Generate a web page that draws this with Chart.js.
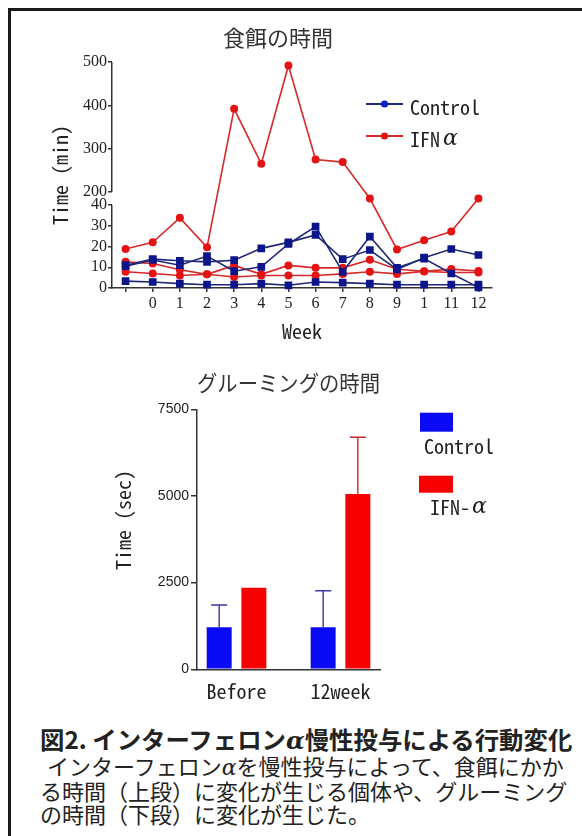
<!DOCTYPE html>
<html>
<head>
<meta charset="utf-8">
<script src="https://cdn.jsdelivr.net/npm/chart.js@4.4.1/dist/chart.umd.min.js"></script>
<style>
  html, body { margin: 0; padding: 0; background: #fff; width: 582px; height: 836px; overflow: hidden; }
  #frame { position: absolute; left: 8px; top: 8px; width: 700px; height: 900px; border-left: 3px solid #1a1a1a; border-top: 3px solid #1a1a1a; }
  canvas { position: absolute; left: 0; }
  #c1 { top: 0; }
  #c2 { top: 350px; }
  #caption { position: absolute; left: 40px; top: 727px; font-family: 'Noto Sans CJK JP', sans-serif; font-size: 22px; line-height: 23.3px; color: #222; white-space: nowrap; }
  #caption .h { font-weight: bold; font-size: 24.4px; line-height: 24.5px; }
  #caption .ind { padding-left: 7px; }
  .al { font-family: 'DejaVu Serif', serif; font-style: italic; }
</style>
</head>
<body>
<div id="frame"></div>
<canvas id="c1" width="582" height="350"></canvas>
<canvas id="c2" width="582" height="370"></canvas>
<div id="caption">
  <div class="h">図2. インターフェロン<span class="al">α</span>慢性投与による行動変化</div>
  <div class="ind">インターフェロン<span class="al">α</span>を慢性投与によって、食餌にかか</div>
  <div>る時間（上段）に変化が生じる個体や、グルーミング</div>
  <div>の時間（下段）に変化が生じた。</div>
</div>
<script>
// ---------------- DATA ----------------
const WEEK_LABELS = ['', '0', '1', '2', '3', '4', '5', '6', '7', '8', '9', '1', '11', '12'];
const CONTROL_A = [11.0, 13.9, 13.1, 12.6, 13.4, 19.1, 22.0, 25.6, 13.9, 18.3, 9.0, 14.6, 18.8, 15.9];
const CONTROL_B = [10.5, 13.5, 11.0, 15.4, 8.1, 10.2, 21.2, 29.6, 7.8, 24.8, 9.7, 14.2, 7.0, 0.3];
const CONTROL_C = [3.3, 2.9, 2.1, 1.6, 1.6, 2.1, 1.3, 2.9, 2.6, 2.1, 1.6, 1.6, 1.6, 1.6];
const IFN_A = [18.8, 22.0, 33.8, 19.6, 392, 265, 492, 275, 269, 185, 18.6, 23.0, 27.2, 185];
const IFN_B = [12.6, 11.8, 8.8, 6.6, 10.9, 6.6, 10.9, 9.7, 9.7, 13.6, 9.0, 8.1, 9.1, 8.2];
const IFN_C = [7.8, 7.0, 6.0, 6.6, 5.3, 6.0, 6.0, 6.0, 6.8, 7.8, 6.8, 8.0, 7.5, 7.5];
const TOP_Y_TICKS = [0, 10, 20, 30, 40, 200, 300, 400, 500];

const GROUP_LABELS = ['Before', '12week'];
const GROOM_CONTROL_MEAN = [1210, 1210];
const GROOM_CONTROL_SD = [645, 1055];
const GROOM_IFN_MEAN = [2355, 5055];
const GROOM_IFN_SD = [0, 1640];
const BOTTOM_Y_TICKS = [0, 2500, 5000, 7500];

// ---------------- STYLE ----------------
const NAVY_LINE = '#1f2777';
const NAVY_PT = '#0c168a';
const RED_LINE = '#d62a2a';
const RED_PT = '#e41414';
const BAR_BLUE = '#0a0af5';
const BAR_RED = '#f80000';
const AXIS = '#333333';
const MONO = "'Noto Sans Mono CJK JP', 'DejaVu Sans Mono', monospace";
const JP = "'Noto Sans CJK JP', sans-serif";

// broken axis geometry (fractions of axis height)
const LOW_MAX = 40, HIGH_MIN = 200, HIGH_MAX = 500;
const LOW_FRAC = 83 / 226, BREAK_FRAC = 96 / 226;

class BrokenScale extends Chart.LinearScale {
  determineDataLimits() { this.min = 0; this.max = HIGH_MAX; }
  buildTicks() { return TOP_Y_TICKS.map(v => ({ value: v })); }
  getPixelForValue(v) {
    const h = this.bottom - this.top;
    if (v <= LOW_MAX) return this.bottom - (v / LOW_MAX) * h * LOW_FRAC;
    return this.bottom - h * BREAK_FRAC - (v - HIGH_MIN) / (HIGH_MAX - HIGH_MIN) * h * (1 - BREAK_FRAC);
  }
  getValueForPixel(p) {
    const h = this.bottom - this.top;
    const d = this.bottom - p;
    if (d <= h * LOW_FRAC) return d / (h * LOW_FRAC) * LOW_MAX;
    return HIGH_MIN + (d - h * BREAK_FRAC) / (h * (1 - BREAK_FRAC)) * (HIGH_MAX - HIGH_MIN);
  }
  drawGrid(chartArea) {
    super.drawGrid(chartArea);
    const ctx = this.ctx;
    const x = Math.round(this.right) - 0.25;
    ctx.save();
    ctx.strokeStyle = AXIS;
    ctx.lineWidth = 1.5;
    ctx.beginPath();
    ctx.moveTo(x, this.getPixelForValue(0) + 0.75);
    ctx.lineTo(x, this.getPixelForValue(LOW_MAX));
    ctx.moveTo(x, this.getPixelForValue(HIGH_MIN));
    ctx.lineTo(x, this.getPixelForValue(HIGH_MAX));
    ctx.stroke();
    ctx.restore();
  }
}
BrokenScale.id = 'broken';
BrokenScale.defaults = Chart.LinearScale.defaults;
Chart.register(BrokenScale);

// legend plugin
function drawParts(ctx, parts, x, y) {
  let cx = x;
  ctx.textBaseline = 'middle';
  ctx.textAlign = 'left';
  for (const p of parts) {
    ctx.font = p.font;
    ctx.fillStyle = '#222';
    ctx.fillText(p.t, cx, y);
    cx += ctx.measureText(p.t).width + (p.gap || 0);
  }
}
const customLegend = {
  id: 'customLegend',
  afterDraw(chart, args, opts) {
    const ctx = chart.ctx;
    ctx.save();
    for (const it of opts.items) {
      if (it.kind === 'line') {
        ctx.strokeStyle = it.line; ctx.lineWidth = 2;
        ctx.beginPath(); ctx.moveTo(it.x, it.y); ctx.lineTo(it.x + it.w, it.y); ctx.stroke();
        ctx.fillStyle = it.dot;
        ctx.beginPath(); ctx.arc(it.x + it.w / 2, it.y, 3.6, 0, Math.PI * 2); ctx.fill();
      } else {
        ctx.fillStyle = it.fill;
        ctx.fillRect(it.x, it.y, it.w, it.h);
      }
      drawParts(ctx, it.parts, it.tx, it.ty);
    }
    ctx.restore();
  }
};

// error bar plugin
const errorBars = {
  id: 'errorBars',
  afterDatasetsDraw(chart, args, opts) {
    const ctx = chart.ctx;
    const yScale = chart.scales.y;
    chart.data.datasets.forEach((ds, i) => {
      const meta = chart.getDatasetMeta(i);
      meta.data.forEach((el, j) => {
        const sd = ds.errors[j];
        if (!sd) return;
        const top = yScale.getPixelForValue(ds.data[j].y + sd);
        ctx.save();
        ctx.strokeStyle = ds.errorColor;
        ctx.lineWidth = 1.4;
        ctx.beginPath();
        ctx.moveTo(el.x, el.y);
        ctx.lineTo(el.x, top);
        ctx.moveTo(el.x - 8, top);
        ctx.lineTo(el.x + 8, top);
        ctx.stroke();
        ctx.restore();
      });
    });
  }
};

// free vertical text plugin (axis title)
const sideTitle = {
  id: 'sideTitle',
  afterDraw(chart, args, opts) {
    if (!opts.text) return;
    const ctx = chart.ctx;
    ctx.save();
    ctx.translate(opts.x, opts.y);
    ctx.rotate(-Math.PI / 2);
    ctx.font = opts.font;
    ctx.fillStyle = '#222';
    ctx.textAlign = 'center';
    ctx.textBaseline = 'middle';
    ctx.fillText(opts.text, 0, 0);
    ctx.restore();
  }
};

Chart.defaults.devicePixelRatio = 1;
Chart.defaults.animation = false;

// ---------------- TOP CHART ----------------
const ctlStyle = { borderColor: NAVY_LINE, backgroundColor: NAVY_PT, pointBackgroundColor: NAVY_PT, pointBorderColor: NAVY_PT,
  pointStyle: 'rect', pointRadius: 4.3, borderWidth: 1.6, tension: 0, fill: false };
const ifnStyle = { borderColor: RED_LINE, backgroundColor: RED_PT, pointBackgroundColor: RED_PT, pointBorderColor: RED_PT,
  pointStyle: 'circle', pointRadius: 3.2, borderWidth: 1.6, tension: 0, fill: false };

new Chart(document.getElementById('c1'), {
  type: 'line',
  data: {
    labels: WEEK_LABELS,
    datasets: [
      Object.assign({ label: 'Control', data: CONTROL_A }, ctlStyle),
      Object.assign({ label: 'Control', data: CONTROL_B }, ctlStyle),
      Object.assign({ label: 'Control', data: CONTROL_C }, ctlStyle),
      Object.assign({ label: 'IFNα', data: IFN_A }, ifnStyle),
      Object.assign({ label: 'IFNα', data: IFN_B }, ifnStyle),
      Object.assign({ label: 'IFNα', data: IFN_C }, ifnStyle),
    ]
  },
  options: {
    responsive: false,
    layout: { padding: { left: 64, right: 90, top: 15, bottom: 3 } },
    plugins: {
      legend: { display: false },
      tooltip: { enabled: false },
      title: { display: true, text: '食餌の時間', color: '#333', font: { family: JP, size: 22, weight: 'normal', lineHeight: 1.2 }, padding: { top: 9.8, bottom: 10.8 } },
      customLegend: { items: [
        { kind: 'line', x: 366, y: 104, w: 37, line: NAVY_LINE, dot: '#1020c8', tx: 410, ty: 107.5, parts: [{ t: 'Control', font: '20px ' + MONO }] },
        { kind: 'line', x: 366, y: 136, w: 37, line: RED_LINE, dot: RED_PT, tx: 410, ty: 139, parts: [{ t: 'IFN', font: '20px ' + MONO, gap: 3 }, { t: 'α', font: 'italic 22px "DejaVu Serif", serif' }] },
      ] },
      sideTitle: {}
    },
    scales: {
      x: {
        type: 'category', offset: true,
        afterFit: s => { s.height = 59; },
        grid: { display: true, drawOnChartArea: false, drawTicks: true, tickLength: 4, offset: false, color: AXIS, lineWidth: 1.5 },
        border: { display: true, color: AXIS, width: 1.5 },
        ticks: { color: '#222', font: { family: "'Liberation Serif', serif", size: 16 }, padding: 2, autoSkip: false, maxRotation: 0 },
        title: { display: true, text: 'Week', color: '#222', font: { family: MONO, size: 20, lineHeight: 1.2 }, padding: { top: 4, bottom: 4 } }
      },
      y: {
        type: 'broken',
        afterFit: s => { s.width = 48; },
        grid: { display: true, drawOnChartArea: false, drawTicks: true, tickLength: 4, color: AXIS, lineWidth: 1.5 },
        border: { display: false },
        ticks: { color: '#222', font: { family: "'Liberation Serif', serif", size: 16 }, padding: 1, autoSkip: false, callback: v => String(v) },
        title: { display: true, text: 'Time (min)', color: '#222', font: { family: MONO, size: 20, lineHeight: 1.2 }, padding: { top: -16, bottom: 0 } }
      }
    }
  },
  plugins: [customLegend, sideTitle]
});

// ---------------- BOTTOM CHART ----------------
new Chart(document.getElementById('c2'), {
  type: 'bar',
  data: {
    datasets: [
      { label: 'Control', data: GROOM_CONTROL_MEAN.map((v, i) => ({ x: i + 1, y: v })), errors: GROOM_CONTROL_SD,
        backgroundColor: BAR_BLUE, errorColor: '#3a3aa8', categoryPercentage: 0.667, barPercentage: 0.72 },
      { label: 'IFN-α', data: GROOM_IFN_MEAN.map((v, i) => ({ x: i + 1, y: v })), errors: GROOM_IFN_SD,
        backgroundColor: BAR_RED, errorColor: '#c82828', categoryPercentage: 0.667, barPercentage: 0.72 }
    ]
  },
  options: {
    responsive: false,
    layout: { padding: { left: 100, right: 202, top: 10, bottom: 10 } },
    plugins: {
      legend: { display: false },
      tooltip: { enabled: false },
      title: { display: true, fullSize: false, text: 'グルーミングの時間', color: '#333', font: { family: JP, size: 22, weight: 'normal', lineHeight: 1.2 }, padding: { top: 9.8, bottom: 13.1 } },
      customLegend: { items: [
        { kind: 'rect', x: 420, y: 62.7, w: 33, h: 19, fill: BAR_BLUE, tx: 424, ty: 96, parts: [{ t: 'Control', font: '20px ' + MONO }] },
        { kind: 'rect', x: 419, y: 125.7, w: 34, h: 17, fill: BAR_RED, tx: 430, ty: 157, parts: [{ t: 'IFN-', font: '20px ' + MONO, gap: 2 }, { t: 'α', font: 'italic 22px "DejaVu Serif", serif' }] },
      ] },
      sideTitle: { text: 'Time (sec)', x: 123, y: 170, font: '20px ' + MONO }
    },
    scales: {
      x: {
        type: 'linear', min: 0.62, max: 2.38, offset: false, bounds: 'data', grace: 0,
        afterFit: s => { s.height = 40.7; },
        afterBuildTicks: s => { s.ticks = GROUP_LABELS.map((_, i) => ({ value: i + 1 })); },
        grid: { display: false, drawTicks: false, offset: false },
        border: { display: true, color: AXIS, width: 1.5 },
        ticks: { color: '#222', font: { family: MONO, size: 20 }, padding: 10, autoSkip: false, maxRotation: 0, callback: v => GROUP_LABELS[Math.round(v) - 1] }
      },
      y: {
        type: 'linear', min: 0, max: 7500,
        afterFit: s => { s.width = 97; },
        afterBuildTicks: s => { s.ticks = BOTTOM_Y_TICKS.map(v => ({ value: v })); },
        grid: { display: true, drawOnChartArea: false, drawTicks: true, tickLength: 6, color: AXIS, lineWidth: 1.5 },
        border: { display: true, color: AXIS, width: 1.5 },
        ticks: { color: '#222', font: { family: "'Liberation Sans Narrow', 'Liberation Sans', sans-serif", size: 14 }, padding: 2, autoSkip: false, callback: v => String(v) }
      }
    }
  },
  plugins: [errorBars, customLegend, sideTitle]
});
</script>
</body>
</html>
